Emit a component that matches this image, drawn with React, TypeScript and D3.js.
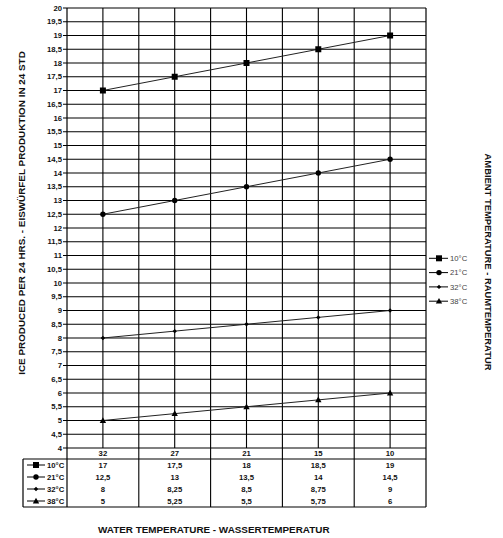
import React from "react";
import * as d3 from "d3";

const waterTemps = ["32", "27", "21", "15", "10"];
const seriesNames = ["10°C", "21°C", "32°C", "38°C"];
const series10 = [17, 17.5, 18, 18.5, 19];
const series21 = [12.5, 13, 13.5, 14, 14.5];
const series32 = [8, 8.25, 8.5, 8.75, 9];
const series38 = [5, 5.25, 5.5, 5.75, 6];
const tableLabels10 = ["17", "17,5", "18", "18,5", "19"];
const tableLabels21 = ["12,5", "13", "13,5", "14", "14,5"];
const tableLabels32 = ["8", "8,25", "8,5", "8,75", "9"];
const tableLabels38 = ["5", "5,25", "5,5", "5,75", "6"];
const yTicks = d3.range(4, 20.001, 0.5);

const W = 503;
const H = 538;
const L = 67;
const R = 426;
const T = 8;
const B = 448;
const tableTop = 459;
const rowH = 12;
const tableLeft = 23;
const FONT = "'Liberation Sans', Arial, sans-serif";

const allSeries = [
  { name: seriesNames[0], values: series10, labels: tableLabels10, marker: "square" },
  { name: seriesNames[1], values: series21, labels: tableLabels21, marker: "circle" },
  { name: seriesNames[2], values: series32, labels: tableLabels32, marker: "dot" },
  { name: seriesNames[3], values: series38, labels: tableLabels38, marker: "triangle" },
];

function Marker({ type, x, y }: { type: string; x: number; y: number }) {
  if (type === "square") return <rect x={x - 3} y={y - 3} width={6} height={6} fill="#000" />;
  if (type === "circle") return <circle cx={x} cy={y} r={2.7} fill="#000" />;
  if (type === "dot")
    return <path d={`M${x - 2.2},${y}L${x},${y - 2.2}L${x + 2.2},${y}L${x},${y + 2.2}Z`} fill="#000" />;
  return <path d={`M${x},${y - 3.3}L${x + 3.2},${y + 2.4}L${x - 3.2},${y + 2.4}Z`} fill="#000" />;
}

export default function App() {
  const xPoint = d3.scalePoint<string>().domain(waterTemps).range([L, R]).padding(0.5);
  const xBand = d3.scaleBand<string>().domain(waterTemps).range([L, R]);
  const y = d3.scaleLinear().domain([4, 20]).range([B, T]);
  const line = d3
    .line<number>()
    .x((_, i) => xPoint(waterTemps[i]) as number)
    .y((v) => y(v));
  const tableBottom = tableTop + rowH * allSeries.length;
  const gridColor = "#000";
  const fmt = (v: number) => String(v).replace(".", ",");

  return (
    <svg width={W} height={H} style={{ position: "absolute", left: 0, top: 0, background: "#fff" }} fontFamily={FONT}>
      {yTicks.map((t) => (
        <line key={"h" + t} x1={L - 4} x2={R} y1={y(t)} y2={y(t)} stroke={gridColor} strokeWidth={1.1} />
      ))}
      {waterTemps.map((c) => (
        <line key={"vc" + c} x1={xPoint(c)} x2={xPoint(c)} y1={T} y2={B} stroke={gridColor} strokeWidth={1.1} />
      ))}
      {waterTemps.map((c, i) =>
        i === 0 ? null : (
          <line key={"vb" + c} x1={xBand(c)} x2={xBand(c)} y1={T} y2={tableBottom} stroke={gridColor} strokeWidth={1.1} />
        )
      )}
      <line x1={L} x2={L} y1={T} y2={tableBottom} stroke={gridColor} strokeWidth={1.2} />
      <line x1={R} x2={R} y1={T} y2={tableBottom} stroke={gridColor} strokeWidth={1.2} />
      <line x1={tableLeft} x2={R} y1={tableTop} y2={tableTop} stroke={gridColor} strokeWidth={1.2} />
      <line x1={tableLeft} x2={R} y1={tableBottom} y2={tableBottom} stroke={gridColor} strokeWidth={1.2} />
      <line x1={tableLeft} x2={tableLeft} y1={tableTop} y2={tableBottom} stroke={gridColor} strokeWidth={1.2} />

      {yTicks.map((t) => (
        <text key={"yt" + t} x={L - 5} y={y(t)} dy="0.35em" textAnchor="end" fontSize={7.7} fontWeight="bold" fill="#111">
          {fmt(t)}
        </text>
      ))}
      {waterTemps.map((c) => (
        <text key={"xt" + c} x={xPoint(c)} y={(B + tableTop) / 2} dy="0.36em" textAnchor="middle" fontSize={7.7} fontWeight="bold" fill="#111">
          {c}
        </text>
      ))}

      {allSeries.map((s) => (
        <g key={s.name}>
          <path d={line(s.values) || ""} fill="none" stroke="#222" strokeWidth={1} />
          {s.values.map((v, i) => (
            <Marker key={i} type={s.marker} x={xPoint(waterTemps[i]) as number} y={y(v)} />
          ))}
        </g>
      ))}

      {allSeries.map((s, r) => {
        const cy = tableTop + rowH * r + rowH / 2;
        return (
          <g key={"row" + s.name}>
            <line x1={27} x2={45} y1={cy} y2={cy} stroke="#000" strokeWidth={1} />
            <Marker type={s.marker} x={36} y={cy} />
            <text x={47} y={cy} dy="0.36em" fontSize={7.7} fontWeight="bold" fill="#111">
              {s.name}
            </text>
            {s.labels.map((lab, i) => (
              <text key={i} x={xPoint(waterTemps[i])} y={cy} dy="0.36em" textAnchor="middle" fontSize={7.7} fontWeight="bold" fill="#111">
                {lab}
              </text>
            ))}
          </g>
        );
      })}

      {allSeries.map((s, r) => {
        const cy = 258.3 + r * 14.3;
        return (
          <g key={"lg" + s.name}>
            <line x1={429} x2={448} y1={cy} y2={cy} stroke="#000" strokeWidth={1} />
            <Marker type={s.marker} x={439} y={cy} />
            <text x={450} y={cy} dy="0.36em" fontSize={7.7} fill="#444">
              {s.name}
            </text>
          </g>
        );
      })}

      <text transform={`translate(25,213) rotate(-90)`} textAnchor="middle" fontSize={9.9} fontWeight="bold" fill="#111">
        ICE PRODUCED PER 24 HRS. - EISWÜRFEL PRODUKTION IN 24 STD
      </text>
      <text x={98} y={533} fontSize={9.9} fontWeight="bold" fill="#111">
        WATER TEMPERATURE - WASSERTEMPERATUR
      </text>
      <text transform={`translate(485,262) rotate(90)`} textAnchor="middle" fontSize={9.4} fontWeight="bold" fill="#111">
        AMBIENT TEMPERATURE - RAUMTEMPERATUR
      </text>
    </svg>
  );
}
